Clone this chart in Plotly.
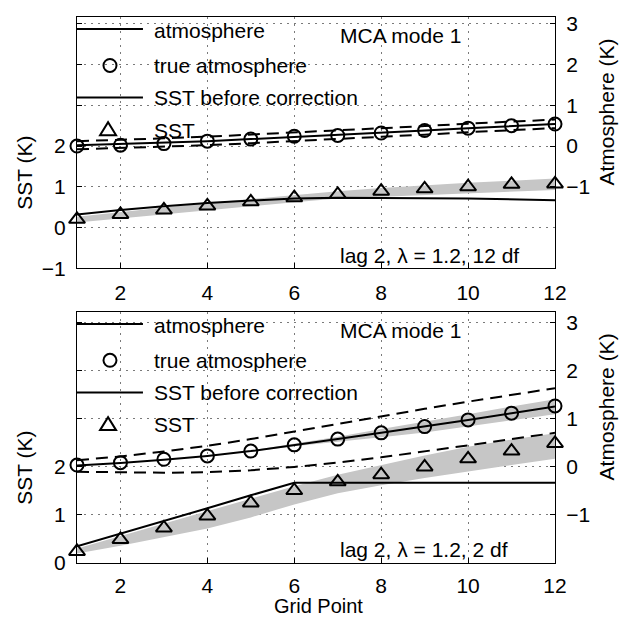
import plotly.graph_objects as go

FONT = "Liberation Sans, Arial, Helvetica, sans-serif"
FS = 21

# ---------------- data ----------------
grid_points = [1, 2, 3, 4, 5, 6, 7, 8, 9, 10, 11, 12]

# top panel (12 df)
top_atm_line = [0.02, 0.05, 0.08, 0.12, 0.17, 0.22, 0.27, 0.32, 0.38, 0.44, 0.49, 0.54]
top_atm_true = [0.00, 0.02, 0.06, 0.12, 0.17, 0.24, 0.26, 0.32, 0.38, 0.44, 0.50, 0.54]
top_atm_upper = [0.12, 0.15, 0.19, 0.23, 0.28, 0.33, 0.38, 0.43, 0.49, 0.55, 0.60, 0.65]
top_atm_lower = [-0.08, -0.05, -0.02, 0.02, 0.07, 0.12, 0.17, 0.22, 0.28, 0.34, 0.39, 0.44]
top_sst_before = [0.32, 0.43, 0.52, 0.60, 0.66, 0.71, 0.73, 0.73, 0.72, 0.71, 0.69, 0.67]
top_sst = [0.20, 0.32, 0.43, 0.53, 0.63, 0.73, 0.81, 0.89, 0.95, 1.00, 1.06, 1.07]
top_sst_lo = [0.12, 0.22, 0.32, 0.42, 0.52, 0.62, 0.71, 0.76, 0.80, 0.84, 0.88, 0.92]
top_sst_hi = [0.26, 0.38, 0.49, 0.60, 0.70, 0.80, 0.89, 0.97, 1.04, 1.10, 1.15, 1.20]

# bottom panel (2 df)
bot_atm_line = [0.03, 0.08, 0.15, 0.23, 0.33, 0.45, 0.58, 0.71, 0.84, 0.98, 1.12, 1.26]
bot_atm_true = [0.04, 0.09, 0.16, 0.23, 0.33, 0.46, 0.58, 0.71, 0.84, 0.98, 1.12, 1.27]
bot_atm_upper = [0.14, 0.22, 0.32, 0.44, 0.58, 0.74, 0.90, 1.06, 1.21, 1.36, 1.50, 1.64]
bot_atm_lower = [-0.10, -0.11, -0.12, -0.11, -0.07, 0.00, 0.09, 0.20, 0.32, 0.45, 0.58, 0.71]
bot_atm_lo = [0.03, 0.08, 0.15, 0.23, 0.32, 0.43, 0.53, 0.62, 0.72, 0.84, 0.97, 1.10]
bot_atm_hi = [0.03, 0.08, 0.15, 0.23, 0.34, 0.48, 0.63, 0.79, 0.94, 1.10, 1.26, 1.41]
bot_sst_before = [0.35, 0.61, 0.88, 1.14, 1.41, 1.67, 1.67, 1.67, 1.67, 1.67, 1.67, 1.67]
bot_sst = [0.24, 0.49, 0.73, 0.98, 1.25, 1.51, 1.69, 1.84, 2.00, 2.17, 2.33, 2.49]
bot_sst_lo = [0.20, 0.36, 0.54, 0.72, 0.95, 1.22, 1.45, 1.62, 1.77, 1.91, 2.04, 2.17]
bot_sst_hi = [0.30, 0.56, 0.82, 1.08, 1.34, 1.60, 1.84, 2.04, 2.24, 2.42, 2.57, 2.70]

x_ticks = [2, 4, 6, 8, 10, 12]
top_sst_ticks = [-1, 0, 1, 2, 3, 4, 5]
top_sst_labels = ["\u22121", "0", "1", "2", "", "", ""]
bot_sst_ticks = [0, 1, 2, 3, 4, 5]
bot_sst_labels = ["0", "1", "2", "", "", ""]
atm_ticks = [-1, 0, 1, 2, 3]
atm_labels = ["\u22121", "0", "1", "2", "3"]

legend_labels = ["atmosphere", "true atmosphere", "SST before correction", "SST"]
panel_text = "MCA mode 1"
lag_texts = ["lag 2, \u03bb = 1.2, 12 df", "lag 2, \u03bb = 1.2, 2 df"]

GRAY = "#c6c6c6"
BLACK = "black"
GRID = "#7a7a7a"
GRIDDASH = "2px,5px"
DASH = "12px,7px"

fig = go.Figure()


def band(xv, lo, hi, xa, ya):
    fig.add_trace(go.Scatter(x=xv + xv[::-1], y=hi + lo[::-1], fill="toself",
                             fillcolor=GRAY, line=dict(width=0), mode="lines",
                             xaxis=xa, yaxis=ya, showlegend=False, hoverinfo="skip"))


def line(xv, yv, xa, ya, dash="solid"):
    fig.add_trace(go.Scatter(x=xv, y=yv, mode="lines",
                             line=dict(color=BLACK, width=2, dash=dash),
                             xaxis=xa, yaxis=ya, showlegend=False, cliponaxis=False))


def markers(xv, yv, xa, ya, symbol, size):
    fig.add_trace(go.Scatter(x=xv, y=yv, mode="markers",
                             marker=dict(symbol=symbol, size=size, color=BLACK,
                                         line=dict(color=BLACK, width=2)),
                             xaxis=xa, yaxis=ya, showlegend=False, cliponaxis=False))


# ---- top panel: SST (left axis y), atmosphere (right axis y2)
band(grid_points, top_sst_lo, top_sst_hi, "x", "y")
line(grid_points, top_sst_before, "x", "y")
markers(grid_points, top_sst, "x", "y", "triangle-up-open", 14)
line(grid_points, top_atm_upper, "x", "y2", DASH)
line(grid_points, top_atm_lower, "x", "y2", DASH)
line(grid_points, top_atm_line, "x", "y2")
markers(grid_points, top_atm_true, "x", "y2", "circle-open", 13)

# ---- bottom panel: SST (left axis y3), atmosphere (right axis y4)
band(grid_points, bot_sst_lo, bot_sst_hi, "x2", "y3")
line(grid_points, bot_sst_before, "x2", "y3")
markers(grid_points, bot_sst, "x2", "y3", "triangle-up-open", 14)
band(grid_points, bot_atm_lo, bot_atm_hi, "x2", "y4")
line(grid_points, bot_atm_upper, "x2", "y4", DASH)
line(grid_points, bot_atm_lower, "x2", "y4", DASH)
line(grid_points, bot_atm_line, "x2", "y4")
markers(grid_points, bot_atm_true, "x2", "y4", "circle-open", 13)

tickfont = dict(family=FONT, size=FS, color=BLACK)
common_x = dict(range=[1, 12], tickvals=x_ticks, ticks="inside", ticklen=5,
                tickcolor=BLACK, showline=True, linecolor=BLACK, linewidth=1,
                mirror=True, showgrid=True, gridcolor=GRID, griddash=GRIDDASH,
                gridwidth=1, zeroline=False, tickfont=tickfont)
common_yl = dict(side="left", ticks="inside", ticklen=5, tickcolor=BLACK,
                 showline=True, linecolor=BLACK, linewidth=1, showgrid=True,
                 gridcolor=GRID, griddash=GRIDDASH, gridwidth=1, zeroline=False,
                 tickfont=tickfont, ticklabelstandoff=6)
common_yr = dict(side="right", ticks="inside", ticklen=5, tickcolor=BLACK,
                 showline=True, linecolor=BLACK, linewidth=1, showgrid=False,
                 zeroline=False, tickfont=tickfont, ticklabelstandoff=6,
                 tickvals=atm_ticks, ticktext=atm_labels)

fig.update_layout(
    width=622, height=619,
    margin=dict(l=77, r=67, t=13, b=56),
    paper_bgcolor="white", plot_bgcolor="white",
    font=dict(family=FONT, size=FS, color=BLACK),
    showlegend=False,
    xaxis=dict(domain=[0, 1], anchor="y", ticklabelstandoff=6, **common_x),
    yaxis=dict(domain=[0.54, 1], anchor="x", range=[-1, 5.17],
               tickvals=top_sst_ticks, ticktext=top_sst_labels, **common_yl),
    yaxis2=dict(overlaying="y", anchor="x", range=[-3, 3.17], **common_yr),
    xaxis2=dict(domain=[0, 1], anchor="y3", ticklabelstandoff=4, **common_x),
    yaxis3=dict(domain=[0, 0.46], anchor="x2", range=[0, 5.23],
                tickvals=bot_sst_ticks, ticktext=bot_sst_labels, **common_yl),
    yaxis4=dict(overlaying="y3", anchor="x2", range=[-2, 3.23], **common_yr),
)

annotations = []
shapes = []
row_line_y = [0.952, None, 0.679, None]
row_text_y = [0.945, 0.806, 0.680, 0.550]
for xa, ya, lag in (("x", "y", lag_texts[0]), ("x2", "y3", lag_texts[1])):
    xd, yd = xa + " domain", ya + " domain"
    # legend drawn inside the axes
    for i, lab in enumerate(legend_labels):
        annotations.append(dict(text=lab, xref=xd, yref=yd, x=0.157, y=row_text_y[i],
                                xanchor="left", yanchor="middle", showarrow=False,
                                font=dict(family=FONT, size=FS, color=BLACK)))
    for ly in (row_line_y[0], row_line_y[2]):
        shapes.append(dict(type="line", xref=xd, yref=yd, x0=0, x1=0.138, y0=ly, y1=ly,
                           line=dict(color=BLACK, width=2)))
    shapes.append(dict(type="circle", xref=xd, yref=yd, xsizemode="pixel", ysizemode="pixel",
                       xanchor=0.069, yanchor=0.807, x0=-6.5, x1=6.5, y0=-6.5, y1=6.5,
                       line=dict(color=BLACK, width=2)))
    shapes.append(dict(type="path", xref=xd, yref=yd, xsizemode="pixel", ysizemode="pixel",
                       xanchor=0.065, yanchor=0.549, path="M-8,-5 L8,-5 L0,8 Z",
                       line=dict(color=BLACK, width=2)))
    annotations.append(dict(text=panel_text, xref=xa, yref=yd, x=7, y=0.925,
                            xanchor="left", yanchor="middle", showarrow=False,
                            font=dict(family=FONT, size=FS, color=BLACK)))
    annotations.append(dict(text=lag, xref=xa, yref=yd, x=7, y=0.052,
                            xanchor="left", yanchor="middle", showarrow=False,
                            font=dict(family=FONT, size=FS, color=BLACK)))
    annotations.append(dict(text="SST (K)", xref="paper", yref=yd, x=-0.109, y=0.379,
                            xanchor="center", yanchor="middle", textangle=-90, showarrow=False,
                            font=dict(family=FONT, size=FS, color=BLACK)))
    annotations.append(dict(text="Atmosphere (K)", xref="paper", yref=yd, x=1.107, y=0.62,
                            xanchor="center", yanchor="middle", textangle=-90, showarrow=False,
                            font=dict(family=FONT, size=FS, color=BLACK)))

annotations.append(dict(text="Grid Point", xref="paper", yref="paper", x=0.506, y=-0.1015,
                        xanchor="center", yanchor="bottom", showarrow=False, borderpad=0,
                        font=dict(family=FONT, size=20, color=BLACK)))

fig.update_layout(annotations=annotations, shapes=shapes)
fig.write_html("out.html")
